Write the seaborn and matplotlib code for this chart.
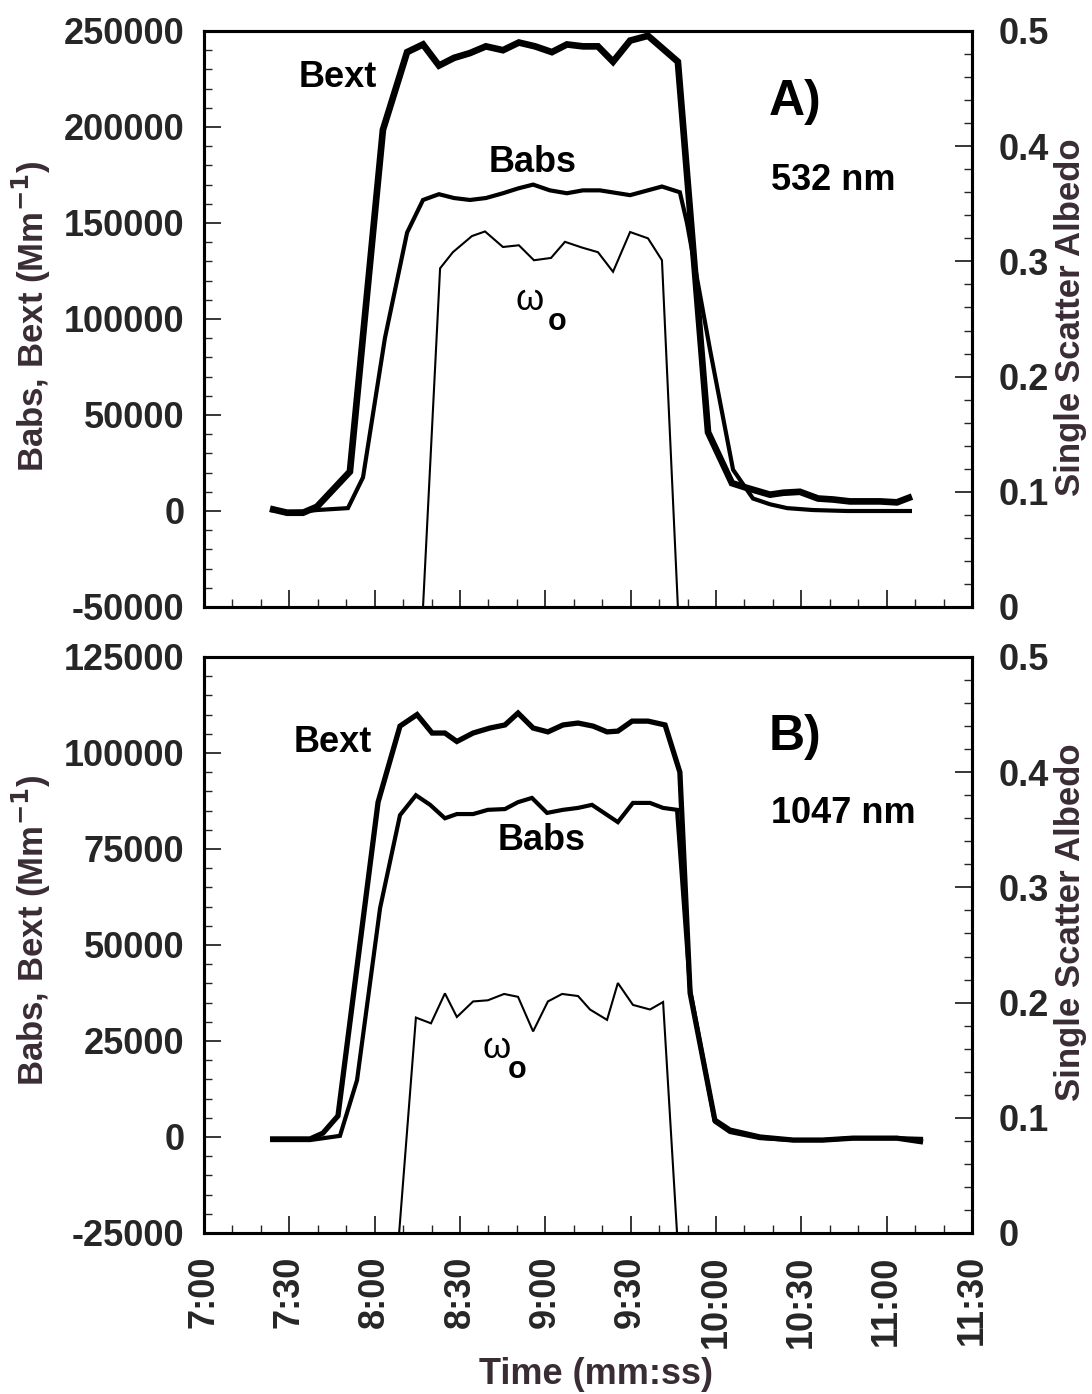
import matplotlib
matplotlib.use("Agg")
import matplotlib.pyplot as plt
from matplotlib.ticker import MultipleLocator, FuncFormatter
import seaborn as sns
import numpy as np

# ---------------- data (time in seconds after 0:00, i.e. 7:00 = 420 s) ----------------
# Panel A (532 nm)
t_bext_a = [443.2, 449.2, 454.8, 459.7, 471.3, 482.9, 491.4, 497.0, 502.6, 507.9, 513.5,
            519.1, 525.1, 530.7, 536.4, 542.3, 547.6, 553.2, 558.5, 563.8, 569.8, 576.1,
            586.6, 597.2, 605.6, 610.9, 619.0, 623.6, 629.5, 635.9, 641.1, 647.1, 657.7,
            663.6, 668.9]
bext_a = [1200, -900, -900, 2200, 20500, 198500, 239000, 243000, 232000, 236000, 238500,
          242000, 240000, 244000, 242000, 239000, 243000, 242000, 242000, 234000, 245000,
          247500, 234000, 41000, 14500, 12000, 8500, 9500, 10000, 6500, 6000, 5000, 5000,
          4500, 7500]

t_babs_a = [443.2, 449.2, 454.8, 459.7, 470.6, 475.9, 483.6, 491.4, 497.0, 502.6, 507.9,
            513.5, 519.1, 525.1, 530.4, 535.7, 541.6, 547.6, 553.2, 559.2, 569.8, 581.0,
            587.3, 589.8, 597.9, 606.0, 613.0, 619.0, 625.0, 634.1, 646.1, 668.9]
babs_a = [500, -500, -300, 500, 1500, 17500, 90000, 145000, 162000, 165000, 163000,
          162000, 163000, 165500, 168000, 170000, 167000, 165500, 167000, 167000, 164500,
          169000, 166000, 150000, 84000, 21500, 6500, 3500, 1500, 500, 0, 0]

t_w_a = [497.0, 503.0, 507.5, 514.2, 518.8, 525.1, 530.7, 536.0, 542.0, 546.9, 552.9,
         558.5, 563.8, 569.8, 576.1, 581.0, 586.6]
w_a = [0.0, 0.294, 0.308, 0.322, 0.326, 0.3125, 0.314, 0.301, 0.303, 0.317, 0.312,
       0.308, 0.291, 0.3255, 0.320, 0.301, 0.0]

# Panel B (1047 nm)
t_bext_b = [443.2, 449.2, 457.3, 461.8, 467.1, 481.2, 488.9, 494.9, 500.2, 504.7, 508.9,
            514.6, 520.5, 525.8, 530.4, 535.7, 540.9, 546.2, 551.5, 556.8, 561.7, 565.5,
            570.5, 576.1, 582.1, 587.3, 590.9, 599.6, 604.9, 615.5, 627.1, 637.6, 648.2,
            663.6, 672.8]
bext_b = [-500, -500, -500, 1000, 5500, 87200, 107000, 110000, 105200, 105200, 103000,
          105200, 106500, 107300, 110400, 106500, 105500, 107300, 107800, 107000, 105500,
          105700, 108300, 108300, 107300, 95000, 37500, 4400, 1800, 0, -800, -800, -300,
          -300, -1300]

t_babs_b = [443.2, 449.2, 457.3, 467.8, 473.8, 481.9, 488.9, 494.5, 499.5, 504.7, 508.9,
            514.6, 519.8, 525.8, 530.4, 535.3, 540.6, 546.2, 551.5, 556.4, 565.5, 570.8,
            576.8, 581.4, 586.3, 590.9, 599.6, 604.9, 615.5, 627.1, 637.6, 648.2, 663.6,
            672.8]
babs_b = [-800, -800, -800, 300, 14800, 59600, 83800, 89000, 86500, 83000, 84100,
          84100, 85200, 85400, 87200, 88300, 84400, 85200, 85700, 86500, 82000, 87000,
          87000, 85700, 85200, 38300, 4000, 1300, -300, -800, -800, -300, -300, -500]

t_w_b = [488.6, 494.5, 499.8, 504.7, 508.9, 514.6, 519.8, 525.5, 530.4, 535.7, 540.9,
         545.9, 551.5, 555.7, 561.7, 565.5, 570.8, 576.8, 581.4, 586.3]
w_b = [0.0, 0.187, 0.182, 0.208, 0.1875, 0.201, 0.202, 0.2075, 0.205, 0.175, 0.201,
       0.2075, 0.2057, 0.194, 0.185, 0.217, 0.198, 0.194, 0.2005, 0.0]

# ---------------- style ----------------
sns.set_style("white")
plt.rcParams['font.family'] = ['Liberation Sans', 'DejaVu Sans']
plt.rcParams['font.weight'] = 'bold'
plt.rcParams['axes.unicode_minus'] = False
plt.rcParams['mathtext.default'] = 'bf'

W, H = 1092, 1394
fig = plt.figure(figsize=(W / 100, H / 100), dpi=100)

def fx(px):
    return px / W

def fy(py):
    return 1 - py / H

ax_a = fig.add_axes([fx(204), fy(607), fx(972) - fx(204), fy(31) - fy(607)])
ax_b = fig.add_axes([fx(204), fy(1233), fx(972) - fx(204), fy(657) - fy(1233)])

label_color = '#3a2c34'
TICK_FS = 26
SP_LW = 2.2

def time_fmt(v, pos):
    v = int(round(v))
    return f"{v // 60}:{v % 60:02d}"

def right_fmt(v, pos):
    return "0" if abs(v) < 1e-9 else f"{v:.1f}"

def int_fmt(v, pos):
    return f"{int(round(v))}"

def draw_panel(ax, tb, vb, ta, va, tw, vw, ylim, ymaj, ymin, bext_lw, babs_lw,
               show_x, lab_left_y, lab_right_y):
    sns.lineplot(x=tb, y=vb, ax=ax, color='black', linewidth=bext_lw,
                 estimator=None, sort=False, solid_capstyle='butt', solid_joinstyle='miter')
    sns.lineplot(x=ta, y=va, ax=ax, color='black', linewidth=babs_lw,
                 estimator=None, sort=False, solid_capstyle='butt', solid_joinstyle='miter')
    ax.set_xlim(420, 690)
    ax.set_ylim(*ylim)
    ax.xaxis.set_major_locator(MultipleLocator(30))
    ax.xaxis.set_minor_locator(MultipleLocator(10))
    ax.yaxis.set_major_locator(MultipleLocator(ymaj))
    ax.yaxis.set_minor_locator(MultipleLocator(ymin))
    ax.yaxis.set_major_formatter(FuncFormatter(int_fmt))
    ax.xaxis.set_major_formatter(FuncFormatter(time_fmt))
    ax.tick_params(axis='y', which='major', direction='in', length=12, width=1.3,
                   labelsize=TICK_FS, pad=14, left=True, right=False)
    ax.tick_params(axis='y', which='minor', direction='in', length=6, width=1.0,
                   left=True, right=False)
    ax.tick_params(axis='x', which='major', direction='in', length=12, width=1.3,
                   labelsize=TICK_FS, pad=16, bottom=True, top=False,
                   labelbottom=show_x, labelrotation=90)
    ax.tick_params(axis='x', which='minor', direction='in', length=6, width=1.0,
                   bottom=True, top=False)
    for s in ax.spines.values():
        s.set_linewidth(SP_LW)
        s.set_color('black')
    for lab in ax.get_yticklabels() + ax.get_xticklabels():
        lab.set_fontweight('bold')
    ax.set_xlabel('')
    ax.set_ylabel('Babs, Bext (Mm$^{\\mathbf{-1}}$)', fontsize=25, fontweight='bold',
                  color=label_color)
    ax.yaxis.set_label_coords(-0.197, lab_left_y)

    ax2 = ax.twinx()
    sns.lineplot(x=tw, y=vw, ax=ax2, color='black', linewidth=1.5,
                 estimator=None, sort=False, solid_capstyle='butt', solid_joinstyle='miter')
    ax2.set_ylim(0, 0.5)
    ax2.yaxis.set_major_locator(MultipleLocator(0.1))
    ax2.yaxis.set_minor_locator(MultipleLocator(0.02))
    ax2.yaxis.set_major_formatter(FuncFormatter(right_fmt))
    ax2.tick_params(axis='y', which='major', direction='in', length=12, width=1.3,
                    labelsize=TICK_FS, pad=19, right=True, left=False)
    ax2.tick_params(axis='y', which='minor', direction='in', length=6, width=1.0,
                    right=True, left=False)
    for lab in ax2.get_yticklabels():
        lab.set_fontweight('bold')
    for s in ax2.spines.values():
        s.set_linewidth(SP_LW)
        s.set_color('black')
    ax2.set_ylabel('Single Scatter Albedo', fontsize=25, fontweight='bold', color=label_color)
    ax2.yaxis.set_label_coords(1.107, lab_right_y)
    ax2.set_xlim(420, 690)
    return ax2

draw_panel(ax_a, t_bext_a, bext_a, t_babs_a, babs_a, t_w_a, w_a,
           (-50000, 250000), 50000, 10000, 4.8, 3.0, False, 0.505, 0.503)
draw_panel(ax_b, t_bext_b, bext_b, t_babs_b, babs_b, t_w_b, w_b,
           (-25000, 125000), 25000, 5000, 3.8, 3.0, True, 0.525, 0.54)

# annotations
def note(ax, x, y, s, fs=25, weight='bold'):
    ax.text(x, y, s, transform=ax.transAxes, ha='center', va='center',
            fontsize=fs, fontweight=weight, color='black')

note(ax_a, 0.1745, 0.920, 'Bext', fs=26)
note(ax_a, 0.428, 0.771, 'Babs', fs=26)
note(ax_a, 0.4245, 0.532, 'ω', fs=26, weight='normal')
note(ax_a, 0.460, 0.495, 'o', fs=22)
note(ax_a, 0.7695, 0.877, 'A)', fs=36)
note(ax_a, 0.819, 0.7396, '532 nm', fs=26)

note(ax_b, 0.168, 0.8524, 'Bext', fs=26)
note(ax_b, 0.440, 0.6806, 'Babs', fs=26)
note(ax_b, 0.3815, 0.320, 'ω', fs=26, weight='normal')
note(ax_b, 0.408, 0.283, 'o', fs=22)
note(ax_b, 0.7695, 0.861, 'B)', fs=36)
note(ax_b, 0.832, 0.729, '1047 nm', fs=26)

fig.text(fx(596), fy(1375), 'Time (mm:ss)', ha='center', va='center',
         fontsize=26, fontweight='bold', color=label_color)

fig.savefig('out.png', dpi=100, facecolor='white')
